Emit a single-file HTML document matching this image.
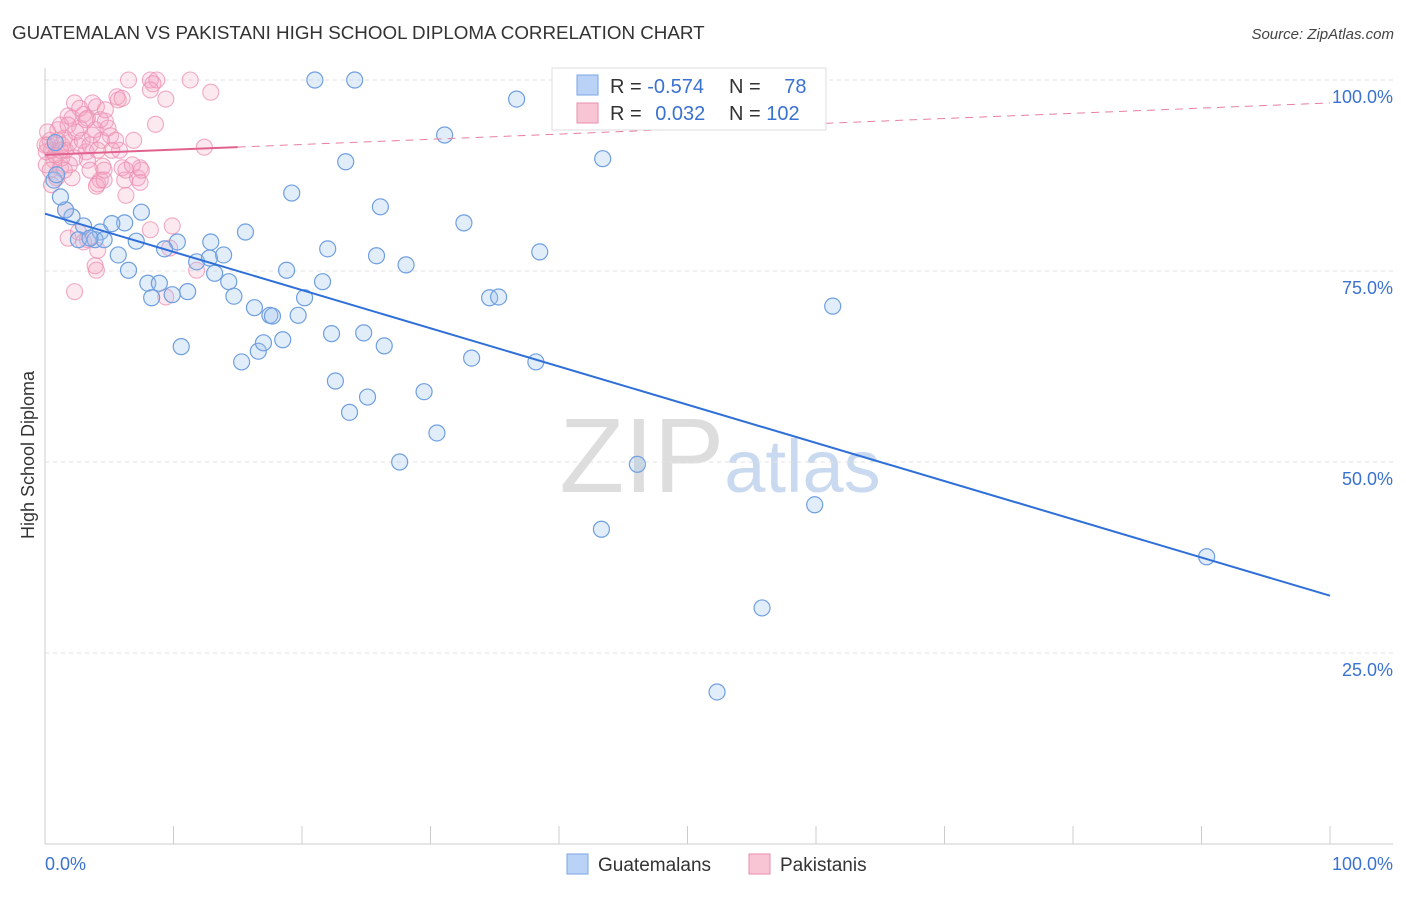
<!DOCTYPE html>
<html><head><meta charset="utf-8"><style>
body{margin:0;background:#fff;font-family:"Liberation Sans",sans-serif;}
svg text{font-family:"Liberation Sans",sans-serif;}
</style></head><body>
<svg id="chart" width="1406" height="892" xmlns="http://www.w3.org/2000/svg">
<text x="12" y="39" font-size="18.8" fill="#333">GUATEMALAN VS PAKISTANI HIGH SCHOOL DIPLOMA CORRELATION CHART</text>
<text x="1394" y="39" font-size="15" fill="#444" text-anchor="end" font-style="italic">Source: ZipAtlas.com</text>
<text x="720" y="492" font-size="106" fill="#ddd" text-anchor="middle" font-family="Liberation Serif">ZIP<tspan fill="#c9d9ef" font-family="Liberation Sans" font-size="74">atlas</tspan></text>
<g id="grid"></g>
<g id="axes"></g>
<g id="pts"></g>
<g id="trend"></g>
<text transform="translate(34,455) rotate(-90)" font-size="18" fill="#333" text-anchor="middle">High School Diploma</text>
<g>
<rect x="552" y="68" width="274" height="62" fill="#fff" stroke="#ddd"/>
<rect x="577" y="75" width="21" height="20" fill="#b9d2f5" stroke="#7aa6e6"/>
<rect x="577" y="103" width="21" height="20" fill="#f8c5d5" stroke="#eb8fae"/>
<text x="610" y="93" font-size="20" fill="#333">R = <tspan fill="#3a72d0">-0.574</tspan></text>
<text x="729" y="93" font-size="20" fill="#333">N = <tspan fill="#3a72d0" dx="18">78</tspan></text>
<text x="610" y="120" font-size="20" fill="#333">R = <tspan fill="#3a72d0" dx="8">0.032</tspan></text>
<text x="729" y="120" font-size="20" fill="#333">N = <tspan fill="#3a72d0">102</tspan></text>
</g>
<g>
<rect x="567" y="854" width="21" height="20" fill="#b9d2f5" stroke="#7aa6e6"/>
<text x="598" y="871" font-size="19" fill="#333">Guatemalans</text>
<rect x="749" y="854" width="21" height="20" fill="#f8c5d5" stroke="#eb8fae"/>
<text x="780" y="871" font-size="19" fill="#333">Pakistanis</text>
</g>
</svg>
<script>
const blueX=[21.0,24.1,36.7,31.1,43.4,23.4,19.2,26.1,32.6,38.5,22.0,25.8,28.1,18.8,21.6,15.6,12.9,10.3,9.3,7.1,6.2,5.2,4.3,3.0,2.1,1.6,1.2,0.7,0.8,7.5,5.7,6.5,8.0,8.9,8.3,9.9,11.1,11.8,12.8,13.2,14.3,13.9,14.7,16.3,17.5,17.7,19.7,20.2,34.6,35.3,61.3,10.6,15.3,16.6,17.0,18.5,22.3,24.8,26.4,33.2,38.2,22.6,25.1,23.7,29.5,30.5,27.6,46.1,59.9,43.3,55.8,52.3,90.4,2.6,3.9,4.6,0.9,3.5];
const blueY=[100,100,97.5,92.8,89.7,89.3,85.2,83.4,81.3,77.5,77.9,77.0,75.8,75.1,73.6,80.1,78.8,78.8,77.9,78.9,81.3,81.2,80.1,80.9,82.1,83.0,84.7,86.9,91.8,82.7,77.1,75.1,73.4,73.4,71.5,71.9,72.3,76.2,76.7,74.7,73.6,77.1,71.7,70.2,69.2,69.1,69.2,71.5,71.5,71.6,70.4,65.1,63.1,64.5,65.6,66.0,66.8,66.9,65.2,63.6,63.1,60.6,58.5,56.5,59.2,53.8,50.0,49.7,44.4,41.2,30.9,19.9,37.6,79.1,79.1,79.1,87.6,79.3];
const pinkX=[6.5,8.2,8.7,8.4,11.3,8.2,9.4,12.9,5.6,5.7,2.3,3.7,4.0,2.1,3.0,3.3,4.7,2.7,3.9,5.1,6.9,8.6,12.4,1.0,1.3,1.6,1.9,2.6,3.2,0.7,0.5,0.2,0.1,0.4,1.2,2.1,3.3,4.5,5.8,6.0,7.2,7.4,6.2,6.3,4.1,4.3,4.6,4.0,1.6,2.6,1.8,3.3,3.9,4.1,2.3,8.2,9.7,9.9,11.8,9.4,3.0,1.0,1.5,2.4,2.9,3.5,4.4,4.9,5.2,2.3,0.9,0.5,1.2,1.8,2.7,3.2,3.7,4.3,0.1,0.4,1.3,1.9,3.5,5.5,6.3,7.4,1.8,0.8,1.2,0,1.5,4.1,4.7,6.0,6.8,7.5,4.6,0.2,4.0];
const pinkY=[100,100,100,99.5,100,98.7,97.5,98.4,97.8,97.4,97.0,97.0,96.5,95.0,95.5,95.0,94.6,93.7,93.5,92.7,92.1,94.2,91.2,92.1,91.5,90.8,91.8,91.4,90.6,89.5,90.8,91.5,88.9,88.2,88.5,87.2,89.5,88.7,90.8,88.5,87.2,86.6,86.9,84.9,86.4,86.9,88.2,86.1,83.0,80.1,79.3,79.1,75.7,77.7,72.3,80.4,78.0,80.9,75.1,71.6,78.8,93.5,92.4,93.2,92.1,91.5,92.1,93.7,90.8,89.8,87.2,86.3,94.1,95.3,96.3,94.8,92.8,94.8,90.6,92.1,89.8,88.9,88.2,92.1,88.2,88.5,94.1,90.2,90.8,91.5,88.2,90.8,96.1,97.6,88.9,88.2,86.9,93.2,75.1];
const yTicks=[100,75,50,25];
const yTickLabels=["100.0%","75.0%","50.0%","25.0%"];
const blueTrend=[82.5,32.5];
const pinkTrend=[90.2,97.0];
const pinkSolidEnd=15;
const X0=45,X1=1330,Y0=844,YS=7.64;
const sx=v=>X0+(X1-X0)*v/100, sy=v=>Y0-v*YS;
const NS="http://www.w3.org/2000/svg";
function mk(parent,tag,attrs){const e=document.createElementNS(NS,tag);for(const k in attrs)e.setAttribute(k,attrs[k]);document.getElementById(parent).appendChild(e);return e;}
yTicks.forEach((t,i)=>{
 const g=mk('grid','line',{x1:X0,x2:1393,y1:sy(t),y2:sy(t),stroke:'#e2e2e2','stroke-dasharray':'4,4'});
 
 
 const l=mk('grid','text',{x:1393,y:sy(t)+23,'font-size':18,fill:'#3a72d0','text-anchor':'end'});
 l.textContent=yTickLabels[i];
 
 
});
const ax=mk('axes','line',{x1:X0,x2:1393,y1:Y0,y2:Y0,stroke:'#ccc'});


const ay=mk('axes','line',{x1:X0,x2:X0,y1:68,y2:Y0,stroke:'#ccc'});


for(let i=1;i<=10;i++){const t=mk('axes','line',{x1:sx(i*10),x2:sx(i*10),y1:826,y2:Y0,stroke:'#ccc'});
 
 }
[[0,'0.0%','start',45],[100,'100.0%','end',1393]].forEach(d=>{const t=mk('axes','text',{x:d[3],y:870,'font-size':18,fill:'#3a72d0','text-anchor':d[2]});t.textContent=d[1];
 
 });
pinkX.forEach((x,i)=>{const c=mk('pts','circle',{cx:sx(x),cy:sy(pinkY[i]),r:8,fill:'rgba(245,165,192,0.25)',stroke:'rgba(236,143,176,0.75)','stroke-width':1.1});
 
 });
blueX.forEach((x,i)=>{const c=mk('pts','circle',{cx:sx(x),cy:sy(blueY[i]),r:8,fill:'rgba(160,195,240,0.3)',stroke:'#6f9fe0','stroke-width':1.2});
 
 });
const bt=mk('trend','line',{x1:sx(0),y1:sy(blueTrend[0]),x2:sx(100),y2:sy(blueTrend[1]),stroke:'#2f6fd8','stroke-width':2});


const pAt=x=>pinkTrend[0]+(pinkTrend[1]-pinkTrend[0])*x/100;
const pd=mk('trend','line',{x1:sx(pinkSolidEnd),y1:sy(pAt(pinkSolidEnd)),x2:sx(100),y2:sy(pinkTrend[1]),stroke:'#e77fa3','stroke-width':1,'stroke-dasharray':'8,6'});


const ps=mk('trend','line',{x1:sx(0),y1:sy(pinkTrend[0]),x2:sx(pinkSolidEnd),y2:sy(pAt(pinkSolidEnd)),stroke:'#e2628e','stroke-width':2});


</script>
</body></html>
